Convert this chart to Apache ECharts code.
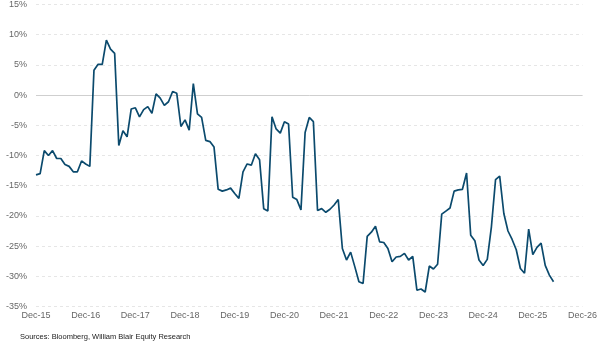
<!DOCTYPE html>
<html>
<head>
<meta charset="utf-8">
<script src="https://cdn.jsdelivr.net/npm/echarts@6/dist/echarts.min.js"></script>
<style>
html,body{margin:0;padding:0;background:#fff;}
#c{width:600px;height:343px;}
</style>
</head>
<body>
<div id="c"></div>
<script>
// Monthly values, Dec-15 (index 0) through May-26 (index 125), in %
const values = [
-13.2,-13.0,-9.2,-10.0,-9.2,-10.5,-10.5,-11.5,-11.8,-12.7,-12.7,-10.9,
-11.4,-11.8,4.1,5.1,5.1,9.1,7.6,6.9,-8.35,-5.9,-6.9,-2.3,
-2.1,-3.6,-2.4,-1.9,-3.0,0.2,-0.5,-1.7,-1.1,0.6,0.3,-5.2,
-4.1,-5.8,1.9,-3.1,-3.7,-7.5,-7.7,-8.6,-15.6,-15.9,-15.7,-15.4,
-16.3,-17.1,-12.7,-11.4,-11.6,-9.7,-10.7,-18.8,-19.2,-3.6,-5.6,-6.3,
-4.4,-4.8,-16.9,-17.3,-19.0,-6.2,-3.7,-4.4,-19.1,-18.8,-19.4,-18.9,
-18.2,-17.3,-25.4,-27.3,-26.0,-28.4,-30.9,-31.2,-23.4,-22.7,-21.7,-24.3,
-24.4,-25.4,-27.6,-26.8,-26.7,-26.2,-27.3,-26.7,-32.3,-32.1,-32.6,-28.3,
-28.8,-28.0,-19.7,-19.2,-18.7,-15.9,-15.7,-15.6,-12.9,-23.2,-24.1,-27.3,
-28.2,-27.2,-21.8,-14.0,-13.4,-19.6,-22.5,-23.9,-25.6,-28.7,-29.5,-22.2,
-26.4,-25.2,-24.5,-28.2,-29.8,-30.9
];
const tickLabels = ['Dec-15','Dec-16','Dec-17','Dec-18','Dec-19','Dec-20','Dec-21','Dec-22','Dec-23','Dec-24','Dec-25','Dec-26'];
const sourceText = 'Sources: Bloomberg, William Blair Equity Research';

const data = values.map((v, i) => [i, v]);

const chart = echarts.init(document.getElementById('c'), null, {renderer: 'canvas'});
chart.setOption({
  animation: false,
  backgroundColor: '#ffffff',
  textStyle: {fontFamily: 'Liberation Sans, Arial, sans-serif'},
  grid: {left: 36, right: 14, top: 3.5, bottom: 36.5, containLabel: false},
  xAxis: {
    type: 'value',
    min: 0, max: 132, interval: 12,
    axisLine: {show: false},
    axisTick: {show: false},
    splitLine: {show: false},
    axisLabel: {
      color: '#666666', fontSize: 9, margin: 5,
      showMinLabel: true, showMaxLabel: true,
      formatter: v => tickLabels[Math.round(v / 12)]
    }
  },
  yAxis: {
    type: 'value',
    min: -35, max: 15, interval: 5,
    axisLine: {show: false},
    axisTick: {show: false},
    axisLabel: {color: '#666666', fontSize: 9, margin: 9, formatter: v => v + '%'},
    splitLine: {show: true, lineStyle: {color: '#e6e6e6', type: [3, 3], width: 1}}
  },
  graphic: [{
    type: 'text', left: 20, top: 333,
    style: {text: sourceText, fontSize: 7.5, fill: '#222', fontFamily: 'Liberation Sans, Arial, sans-serif'}
  }],
  series: [{
    type: 'line',
    data: data,
    showSymbol: false,
    lineStyle: {color: '#0b4a6d', width: 1.7},
    itemStyle: {color: '#0b4a6d'},
    z: 3,
    markLine: {
      silent: true, symbol: 'none', label: {show: false},
      lineStyle: {color: '#cfcfcf', type: 'solid', width: 1},
      data: [{yAxis: 0}],
      z: 1
    }
  }]
});
</script>
</body>
</html>
